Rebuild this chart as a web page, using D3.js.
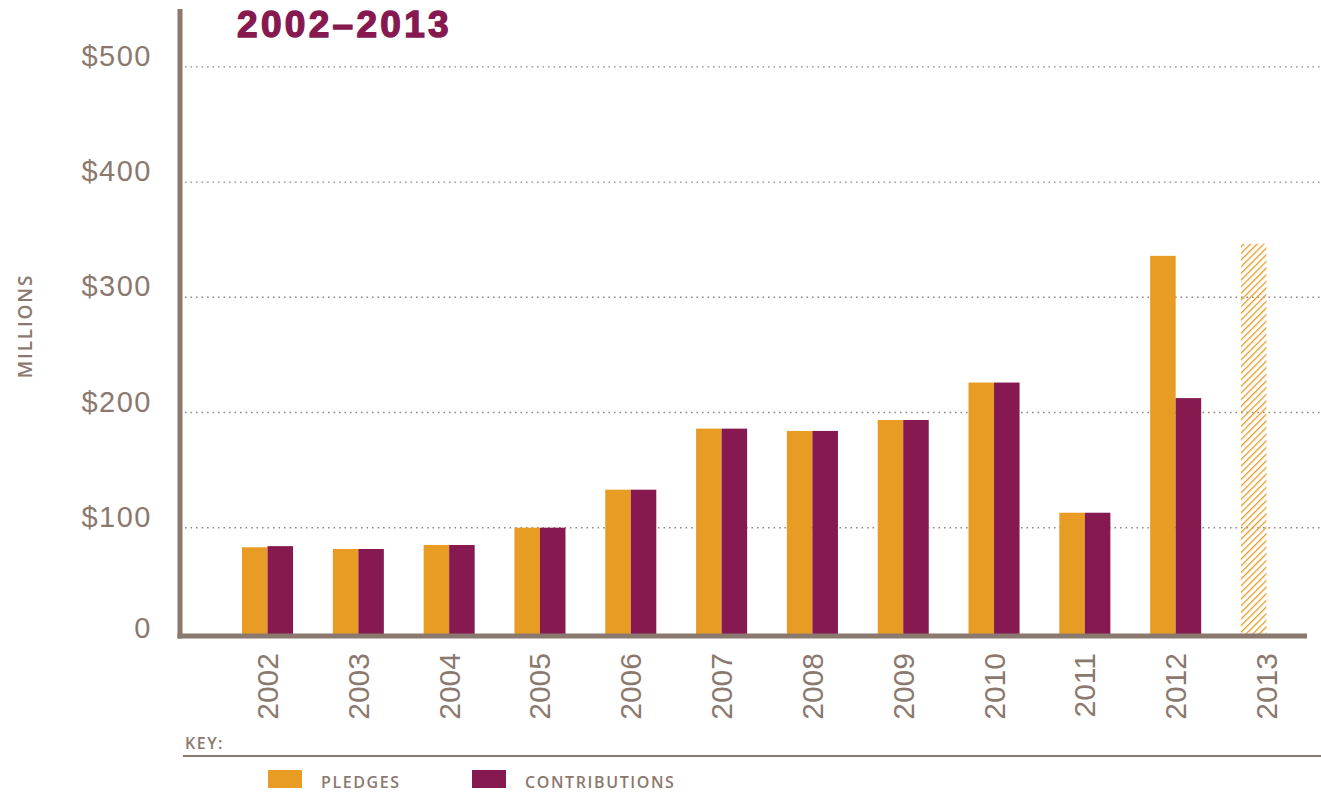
<!DOCTYPE html>
<html>
<head>
<meta charset="utf-8">
<script src="https://cdn.jsdelivr.net/npm/d3@7"></script>
<style>
  body { margin: 0; background: #fff; }
  text { font-family: "Liberation Sans", Arial, sans-serif; }
  .small { font-family: "Open Sans", "Liberation Sans", sans-serif; font-weight: 600; }
</style>
</head>
<body>
<div id="container"></div>
<script>
/* CONSTANTS AND GLOBALS */
const width = 1321,
  height = 792;

// DATA (millions of dollars)
const years = ["2002", "2003", "2004", "2005", "2006", "2007", "2008", "2009", "2010", "2011", "2012", "2013"];
const pledges = [83, 81.5, 85, 100, 133, 186, 184, 193.5, 226, 113, 336, 346.5];
const contributions = [84, 81.5, 85, 100, 133, 186, 184, 193.5, 226, 113, 212.5, null];
const projectedYears = ["2013"];
const yTicks = [0, 100, 200, 300, 400, 500];
const seriesNames = ["pledges", "contributions"];
const seriesLabels = ["PLEDGES", "CONTRIBUTIONS"];

const taupe = "#8b786e",
  orange = "#e89c24",
  purple = "#86194f";

const color = d3.scaleOrdinal().domain(seriesNames).range([orange, purple]);

// rows for the grouped bars
const rows = years.map((yr, i) => ({
  year: yr,
  values: [
    { key: "pledges", value: pledges[i] },
    { key: "contributions", value: contributions[i] }
  ].filter(d => d.value != null)
}));

/* SCALES */
const baseY = 636; // centre of the x axis line
const y = d3.scaleLinear().domain([0, 500]).range([642.9, 66.9]);

const x = d3.scaleBand()
  .domain(years)
  .range([242, 1292])
  .paddingInner(0.438)
  .paddingOuter(0);

const xInner = d3.scaleBand()
  .domain(seriesNames)
  .range([0, x.bandwidth()]);

/* SVG */
const svg = d3.select("#container")
  .append("svg")
  .attr("width", width)
  .attr("height", height);

// hatch pattern for the projected year
svg.append("defs")
  .append("pattern")
  .attr("id", "hatch")
  .attr("patternUnits", "userSpaceOnUse")
  .attr("width", 4.7)
  .attr("height", 4.7)
  .attr("patternTransform", "rotate(45)")
  .append("line")
  .attr("x1", 0).attr("y1", 0)
  .attr("x2", 0).attr("y2", 4.7)
  .attr("stroke", orange)
  .attr("stroke-width", 2.6);

// GRIDLINES (dotted)
svg.append("g")
  .selectAll("line")
  .data(yTicks.filter(d => d > 0))
  .join("line")
  .attr("x1", 185)
  .attr("x2", width)
  .attr("y1", d => y(d))
  .attr("y2", d => y(d))
  .attr("stroke", "#958781")
  .attr("stroke-width", 1.4)
  .attr("stroke-dasharray", "1.6,3.9");

// Y LABELS
svg.append("g")
  .selectAll("text")
  .data(yTicks)
  .join("text")
  .attr("x", 152)
  .attr("y", d => d === 0 ? y(d) - 5 : y(d) - 1)
  .attr("text-anchor", "end")
  .attr("fill", taupe)
  .style("font-size", "29px")
  .style("letter-spacing", "1.5px")
  .text(d => d === 0 ? "0" : "$" + d);

// BARS
svg.append("g")
  .selectAll("g")
  .data(rows)
  .join("g")
  .attr("transform", d => `translate(${x(d.year)},0)`)
  .selectAll("rect")
  .data(d => d.values.map(v => ({ ...v, year: d.year })))
  .join("rect")
  .attr("x", d => xInner(d.key))
  .attr("y", d => y(d.value))
  .attr("width", xInner.bandwidth())
  .attr("height", d => baseY - y(d.value))
  .attr("fill", d => projectedYears.includes(d.year) ? "url(#hatch)" : color(d.key));

// AXIS LINES
svg.append("line")
  .attr("x1", 180).attr("x2", 180)
  .attr("y1", 9).attr("y2", baseY + 2.5)
  .attr("stroke", taupe)
  .attr("stroke-width", 5);

svg.append("line")
  .attr("x1", 177.5).attr("x2", 1307)
  .attr("y1", baseY).attr("y2", baseY)
  .attr("stroke", taupe)
  .attr("stroke-width", 5);

// YEAR LABELS, rotated
svg.append("g")
  .selectAll("text")
  .data(years)
  .join("text")
  .attr("transform", d => `translate(${x(d) + x.bandwidth() / 2 + 10.5},653) rotate(-90)`)
  .attr("text-anchor", "end")
  .attr("fill", taupe)
  .style("font-size", "30px")
  .text(d => d);

// TITLE
svg.append("text")
  .attr("x", 237)
  .attr("y", 37)
  .attr("fill", purple)
  .attr("stroke", purple)
  .attr("stroke-width", 1.4)
  .style("font-size", "37px")
  .style("font-weight", "700")
  .style("letter-spacing", "3.3px")
  .text("2002–2013");

// MILLIONS
svg.append("text")
  .attr("class", "small")
  .attr("transform", "translate(32,326) rotate(-90)")
  .attr("text-anchor", "middle")
  .attr("fill", taupe)
  .style("font-size", "19px")
  .style("letter-spacing", "1.8px")
  .text("MILLIONS");

// KEY
svg.append("text")
  .attr("class", "small")
  .attr("x", 185)
  .attr("y", 749)
  .attr("fill", taupe)
  .style("font-size", "16px")
  .style("letter-spacing", "1.5px")
  .text("KEY:");

svg.append("line")
  .attr("x1", 183).attr("x2", width)
  .attr("y1", 756).attr("y2", 756)
  .attr("stroke", taupe)
  .attr("stroke-width", 2);

const legendX = [268, 472];
const legend = svg.append("g")
  .selectAll("g")
  .data(seriesNames)
  .join("g")
  .attr("transform", (d, i) => `translate(${legendX[i]},770)`);

legend.append("rect")
  .attr("width", 34)
  .attr("height", 18)
  .attr("fill", d => color(d));

legend.append("text")
  .attr("class", "small")
  .attr("x", 53)
  .attr("y", 18)
  .attr("fill", taupe)
  .style("font-size", "16px")
  .style("letter-spacing", "1.6px")
  .text((d, i) => seriesLabels[i]);
</script>
</body>
</html>
